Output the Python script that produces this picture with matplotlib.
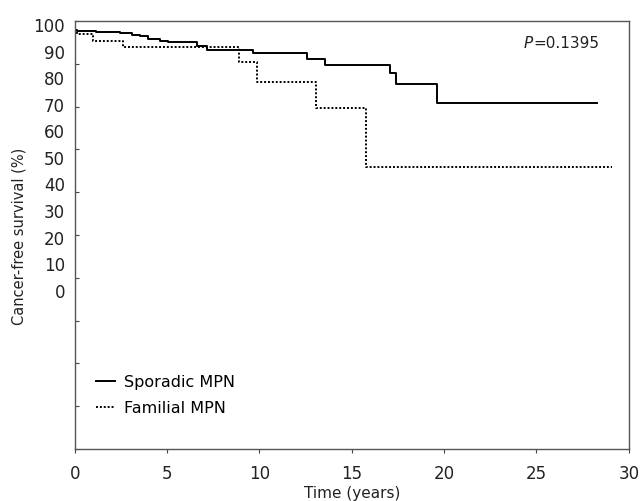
import matplotlib
matplotlib.use("Agg")
import matplotlib.pyplot as plt
import numpy as np

plt.rcParams["font.family"] = ["Liberation Sans Narrow", "DejaVu Sans Condensed", "DejaVu Sans"]

# Kaplan-Meier step points (time in years, survival in %)
sporadic_t = [0, 0.11, 1.15, 2.45, 3.08, 3.53, 3.96, 4.6, 5.04, 6.61, 7.14, 9.64, 12.56, 13.53, 17.05, 17.37, 19.64, 28.3]
sporadic_s = [97.9, 97.6, 97.4, 97.1, 96.8, 96.4, 95.8, 95.4, 95.0, 94.2, 93.2, 92.5, 91.1, 89.8, 87.9, 85.4, 80.8, 80.8]

familial_t = [0, 0.15, 1.0, 2.6, 8.9, 9.87, 13.04, 15.75, 29.1]
familial_s = [97.9, 97.0, 95.4, 94.0, 90.5, 85.8, 79.6, 66.0, 66.0]

ytick_labels = [0, 10, 20, 30, 40, 50, 60, 70, 80, 90, 100]
xticks = [0, 5, 10, 15, 20, 25, 30]
p_text = "=0.1395"

fig = plt.figure(figsize=(6.41, 5.02), dpi=100)
ax = fig.add_axes([0.1165, 0.1036, 0.8645, 0.8524])

ax.step(sporadic_t, sporadic_s, where="post", color="black", lw=1.4, label="Sporadic MPN")
ax.step(familial_t, familial_s, where="post", color="black", lw=1.4, ls=(0, (1, 1)), label="Familial MPN")

ax.set_xlim(0, 30)
ax.set_ylim(0, 100)
ax.set_xticks(xticks)
ax.set_yticks(np.arange(0, 101, 10))
ax.set_yticklabels([])
ax.tick_params(axis="y", direction="in", length=3, color="#444")
ax.tick_params(axis="x", direction="out", length=3, color="#444", labelsize=12, labelcolor="#222", pad=8)
for sp in ax.spines.values():
    sp.set_color("#555")
    sp.set_linewidth(1.0)

# the survival labels sit on their own compressed scale
ax2 = ax.twinx()
ax2.set_ylim(-60, 101.1)
ax2.yaxis.tick_left()
ax2.set_yticks(ytick_labels)
ax2.tick_params(axis="y", length=0, labelsize=12, labelcolor="#222", pad=7)
for sp in ax2.spines.values():
    sp.set_visible(False)

ax.set_xlabel("Time (years)", fontsize=11, color="#222", labelpad=2)
ax.set_ylabel("Cancer-free survival (%)", fontsize=10.5, color="#222", labelpad=31)

ax.text(0.946, 0.95, p_text, transform=ax.transAxes, ha="right", va="center", fontsize=11, color="#222")

# italic P in front of the value
fig.canvas.draw()
t_main = ax.texts[0]
bb = t_main.get_window_extent(renderer=fig.canvas.get_renderer())
x_left = ax.transAxes.inverted().transform((bb.x0, bb.y0))[0]
ax.text(x_left, 0.95, "P", transform=ax.transAxes, ha="right", va="center", fontsize=11, color="#222", style="italic")

ax.legend(loc="lower left", bbox_to_anchor=(0.012, 0.045), frameon=False, fontsize=11.5,
          handlelength=1.2, handletextpad=0.55, labelspacing=0.7)

fig.savefig("out.png", dpi=100)
